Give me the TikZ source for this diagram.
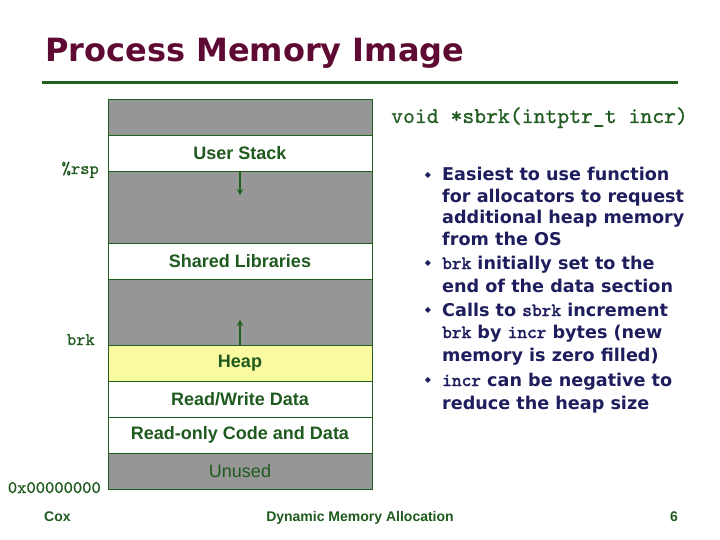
\documentclass[tikz,border=0pt]{standalone}
\usepackage{fontspec}
\setmainfont{Liberation Sans}
\newfontfamily\vfont{DejaVu Sans}
\newfontfamily\ttb{lmmono10-regular.otf}[FakeBold=2.2]
\newfontfamily\ttm{lmmono10-regular.otf}[FakeBold=0.8]
\usetikzlibrary{arrows.meta}
\definecolor{titlec}{HTML}{5E0A33}
\definecolor{gline}{HTML}{1F5F1F}
\definecolor{gtext}{HTML}{1F5A1F}
\definecolor{navy}{HTML}{1E1E5E}
\definecolor{grayfill}{HTML}{969696}
\definecolor{heapc}{HTML}{FAFAA0}
\begin{document}
\begin{tikzpicture}[x=1pt,y=-1pt,
  seg/.style={draw=gline, line width=0.8pt, minimum width=264pt, minimum height=36pt,
    inner sep=0pt, text=gtext, font=\fontsize{18}{18}\selectfont\bfseries},
  gapseg/.style={seg, fill=grayfill},
  whiteseg/.style={seg, fill=white},
  addr/.style={anchor=base east, inner sep=0pt, text=gtext, font=\ttm\fontsize{17.7}{17.7}\selectfont},
  bl/.style={anchor=base west, inner sep=0pt, text=navy, font=\vfont\bfseries\fontsize{17.6}{17.6}\selectfont},
  bul/.style={inner sep=0pt, text=navy, font=\vfont\fontsize{8}{8}\selectfont},
  growarrow/.style={draw=gline, line width=1.8pt, -{Stealth[length=6pt,width=6.5pt]}},
  foot/.style={anchor=base, inner sep=0pt, text=gtext, font=\bfseries\fontsize{14}{14}\selectfont}
]
\useasboundingbox (0,0) rectangle (720,540);
\fill[white] (0,0) rectangle (720,540);
% title
\node[anchor=base west, inner sep=0pt, text=titlec, font=\vfont\bfseries\fontsize{32}{32}\selectfont] (title) at (45,62) {Process Memory Image};
\coordinate (tl) at (42,83);
\coordinate (tr) at (678,83);
\draw[gline, line width=3pt] (tl) -- (tr);
% memory segments
\node[gapseg, minimum height=36pt] (top) at (240,117) {};
\node[whiteseg] (ustack) at (240,153) {User Stack};
\node[gapseg, minimum height=72pt] (gap1) at (240,207) {};
\node[whiteseg] (shlib) at (240,261) {Shared Libraries};
\node[gapseg, minimum height=66pt] (gap2) at (240,312) {};
\node[seg, fill=heapc] (heap) at (240,363) {Heap};
\node[whiteseg] (rwdata) at (240,399) {Read/Write Data};
\node[whiteseg] (rodata) at (240,435) {Read-only Code and Data};
\node[gapseg, font=\fontsize{18}{18}\selectfont] (unused) at (240,471) {Unused};
% growth arrows
\coordinate (spend) at (240,195);
\coordinate (brkend) at (240,320);
\draw[growarrow] (ustack.south) -- (spend);
\draw[growarrow] (heap.north) -- (brkend);
% address labels
\node[addr] (rsp) at (99,174) {\%rsp};
\node[addr] (brk) at (95,345) {brk};
\node[addr] (zero) at (101,493) {0x00000000};
% sbrk prototype
\node[anchor=base west, inner sep=0pt, text=gtext, font=\ttm\fontsize{22.6}{22.6}\selectfont] (proto) at (391,123) {void *sbrk(intptr\_t incr)};
% bullets
\newcommand{\cw}[1]{{\ttb\fontsize{18.5}{18.5}\selectfont #1}}
\node[bul] (b1) at (428,175) {◆};
\node[bl] (l1) at (442,181) {Easiest to use function};
\node[bl] (l2) at (442,202.5) {for allocators to request};
\node[bl] (l3) at (442,224) {additional heap memory};
\node[bl] (l4) at (442,245) {from the OS};
\node[bul] (b2) at (428,263) {◆};
\node[bl] (l5) at (442,269) {\cw{brk} initially set to the};
\node[bl] (l6) at (442,292) {end of the data section};
\node[bul] (b3) at (428,310) {◆};
\node[bl] (l7) at (442,316) {Calls to \cw{sbrk} increment};
\node[bl] (l8) at (442,338) {\cw{brk} by \cw{incr} bytes (new};
\node[bl] (l9) at (442,361.5) {memory is zero filled)};
\node[bul] (b4) at (428,380) {◆};
\node[bl] (l10) at (442,386) {\cw{incr} can be negative to};
\node[bl] (l11) at (442,409) {reduce the heap size};
% footer
\node[foot, anchor=base west] (cox) at (44,521) {Cox};
\node[foot] (course) at (360,521) {Dynamic Memory Allocation};
\node[foot, anchor=base east] (page) at (678,521) {6};
\end{tikzpicture}
\end{document}
